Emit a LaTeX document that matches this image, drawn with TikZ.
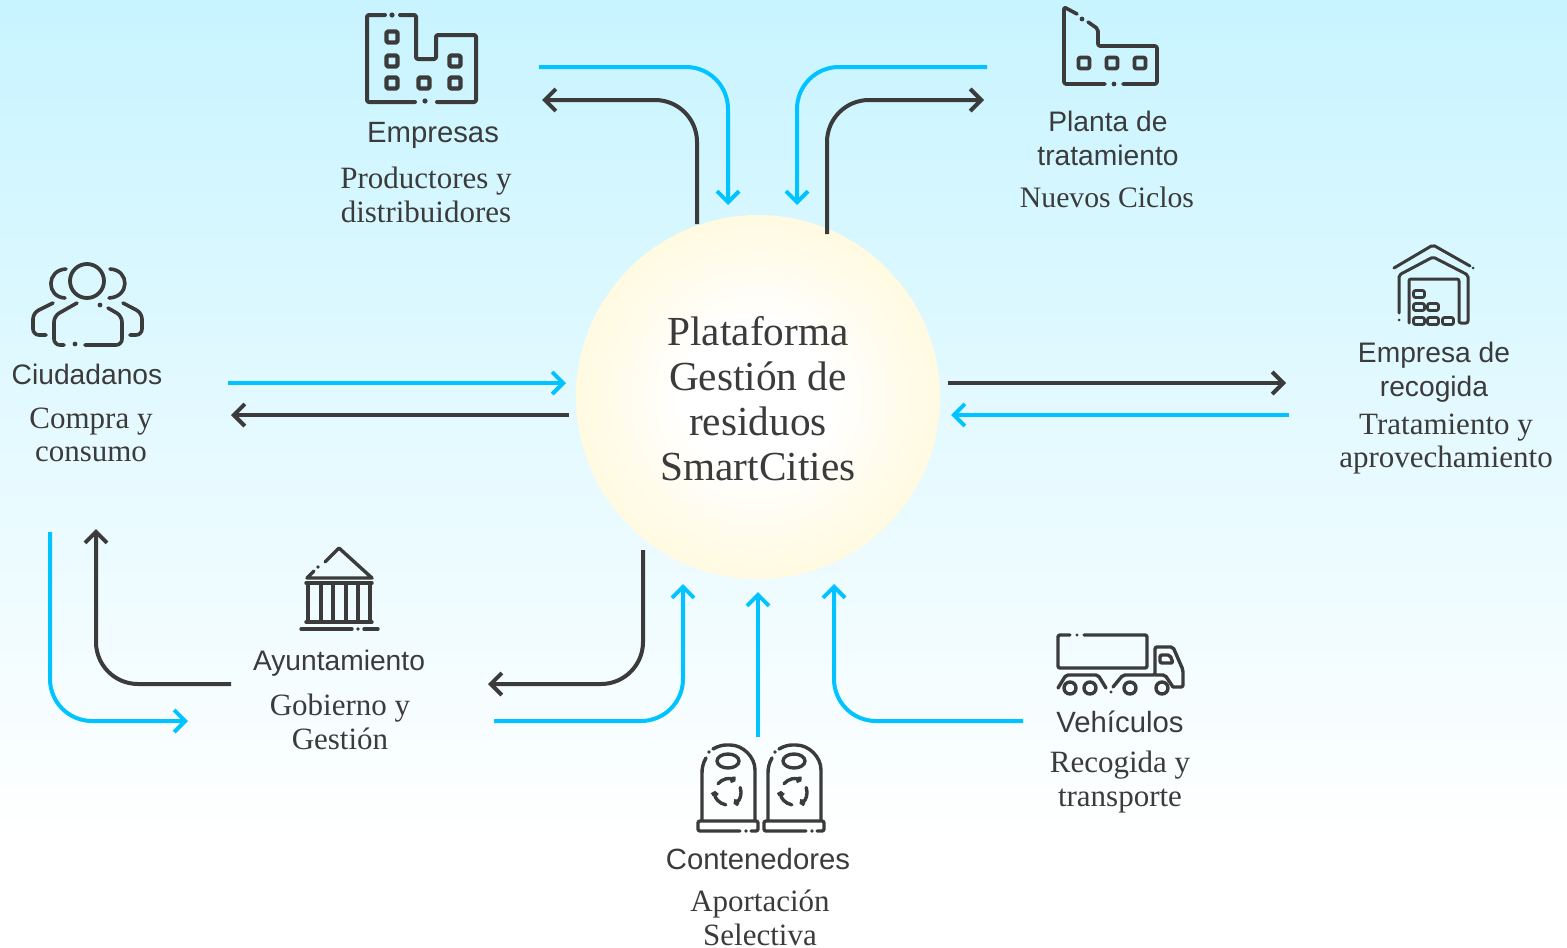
\documentclass[tikz,border=0pt]{standalone}
\usepackage{fontspec}
\setmainfont{Liberation Serif}
\setsansfont{Liberation Sans}
\usetikzlibrary{arrows.meta}
\definecolor{darkline}{HTML}{3B3B3B}
\definecolor{bluearrow}{HTML}{00C3FF}
\definecolor{skytop}{HTML}{C8F4FF}
\definecolor{rimyellow}{HTML}{FFF6CE}
\definecolor{midyellow}{HTML}{FFFBE6}
\pgfdeclareradialshading{glowball}{\pgfpoint{0bp}{0bp}}{color(0bp)=(white); color(10bp)=(white); color(22bp)=(midyellow); color(35bp)=(rimyellow); color(50bp)=(rimyellow)}
\tikzset{
  >={Straight Barb[length=11pt,width=22pt]},
  cyanline/.style={draw=bluearrow,line width=4pt,->,rounded corners=42pt},
  darkarrow/.style={draw=darkline,line width=4pt,->,rounded corners=42pt},
  icon/.style={draw=darkline,line width=3.4pt,line cap=round,line join=round,rounded corners=2pt},
  icondot/.style={fill=darkline},
  who/.style={font=\sffamily\fontsize{28.2}{34}\selectfont,text=darkline,align=center},
  whobig/.style={font=\sffamily\fontsize{29.3}{34}\selectfont,text=darkline,align=center},
  what/.style={font=\fontsize{31}{33.5}\selectfont,text=darkline,align=center}
}
\begin{document}
\begin{tikzpicture}[x=1pt,y=-1pt]
  \useasboundingbox (0,0) rectangle (1567,948);
  \shade[top color=skytop,bottom color=white] (0,0) rectangle (1567,840);

  % centre
  \node[circle,minimum size=364pt,shading=glowball,inner sep=0pt] (plataforma) at (758,397) {};
  \node[font=\fontsize{41.3}{45}\selectfont,text=darkline,align=center] (plataformatxt) at (758,399) {Plataforma\\Gestión de\\residuos\\SmartCities};

  % labels
  \node[whobig] (empresas) at (433,135) {Empresas};
  \node[what] (empresastxt) at (426,195) {Productores y\\distribuidores};
  \node[who] (planta) at (1108,138) {Planta de\\tratamiento};
  \node[what,font=\fontsize{29.7}{33.5}\selectfont] (plantatxt) at (1107,197) {Nuevos Ciclos};
  \node[who] (recogida) at (1434,372) {Empresa de\\recogida};
  \node[what] (recogidatxt) at (1446,444) {Tratamiento y\\aprovechamiento};
  \node[who] (ciudadanos) at (87,374) {Ciudadanos};
  \node[what] (ciudadanostxt) at (91,435) {Compra y\\consumo};
  \node[who] (ayto) at (339,663) {Ayuntamiento};
  \node[what] (aytotxt) at (340,722) {Gobierno y\\Gestión};
  \node[whobig] (contenedores) at (758,859) {Contenedores};
  \node[what] (contenedorestxt) at (760,918) {Aportación\\Selectiva};
  \node[whobig] (vehiculos) at (1120,722) {Vehículos};
  \node[what] (vehiculostxt) at (1120,782) {Recogida y\\transporte};

  % arrow ends
  \coordinate (ea) at (539,67);  \coordinate (eb) at (728,205);
  \coordinate (ec) at (697,224); \coordinate (ed) at (542,100);
  \coordinate (pa) at (987,67);  \coordinate (pb) at (797,205);
  \coordinate (pc) at (827,234); \coordinate (pd) at (984,100);
  \coordinate (ra) at (948,383); \coordinate (rb) at (1286,383);
  \coordinate (rc) at (1289,415);\coordinate (rd) at (951,415);
  \coordinate (ca) at (228,383); \coordinate (cb) at (566,383);
  \coordinate (cc) at (569,415); \coordinate (cd) at (231,415);
  \coordinate (ua) at (50,532);  \coordinate (ub) at (188,721);
  \coordinate (uc) at (231,684); \coordinate (ud) at (96,529);
  \coordinate (ue) at (643,550); \coordinate (uf) at (488,684);
  \coordinate (ug) at (494,721); \coordinate (uh) at (683,584);
  \coordinate (ta) at (758,737); \coordinate (tb) at (758,592);
  \coordinate (va) at (1023,721);\coordinate (vb) at (834,584);

  \draw[cyanline] (ea) -| (eb);
  \draw[darkarrow] (ec) |- (ed);
  \draw[cyanline] (pa) -| (pb);
  \draw[darkarrow] (pc) |- (pd);
  \draw[darkarrow] (ra) -- (rb);
  \draw[cyanline] (rc) -- (rd);
  \draw[cyanline] (ca) -- (cb);
  \draw[darkarrow] (cc) -- (cd);
  \draw[cyanline] (ua) |- (ub);
  \draw[darkarrow] (uc) -| (ud);
  \draw[darkarrow] (ue) |- (uf);
  \draw[cyanline] (ug) -| (uh);
  \draw[cyanline] (ta) -- (tb);
  \draw[cyanline] (va) -| (vb);

  % empresas icon
  \draw[icon,line width=4pt] (385,15) -- (367,15) -- (367,102) -- (415,102);
  \draw[icon,line width=4pt] (437,102) -- (476,102) -- (476,35) -- (436,35) -- (436,59) -- (416,59) -- (416,15) -- (400,15);
  \fill[icondot] (392,15) circle[radius=2.6pt] (425,101) circle[radius=2.6pt];
  \foreach \x/\y in {392/37,392/61,392/83,424/83,455/61,455/83}
    \draw[icon,line width=4.4pt] (\x-5.5,\y-5.5) rectangle (\x+5.5,\y+5.5);

  % planta icon
  \draw[icon,line width=3.6pt] (1077,14) -- (1064,7) -- (1064,84) -- (1105,84);
  \draw[icon,line width=3.6pt] (1123,84) -- (1157,84) -- (1157,46) -- (1098,46) -- (1098,29) -- (1088,22);
  \fill[icondot] (1082,19) circle[radius=2.4pt] (1114,84) circle[radius=2.4pt];
  \foreach \x in {1084,1112,1140}
    \draw[icon,line width=3.8pt] (\x-5.5,63-5.5) rectangle (\x+5.5,63+5.5);

  % recogida icon
  \draw[icon,line width=3pt] (1394,268) -- (1433,245) -- (1470,266);
  \fill[icondot] (1473,268) circle[radius=1.5pt] (1399,320) circle[radius=1.5pt];
  \draw[icon,line width=3pt] (1399,313) -- (1399,275) -- (1433,257) -- (1468,275) -- (1468,323) -- (1459,323) -- (1459,279) -- (1409,279) -- (1409,323);
  \foreach \x/\y in {1419/294,1419/307,1433/307,1419/321,1433/321,1448/321}
    \draw[icon,line width=2.8pt] (\x-5.5,\y-3.5) rectangle (\x+5.5,\y+3.5);

  % ciudadanos icon
  \draw[icon,line width=3.8pt] (87,281) circle[radius=17pt];
  \draw[icon,line width=3.6pt] (66,269) .. controls (46,270) and (46,297) .. (65,298);
  \draw[icon,line width=3.6pt] (110,269) .. controls (130,270) and (130,297) .. (109,298);
  \draw[icon,line width=3.6pt,rounded corners=6pt] (77,303) -- (54,316) -- (54,345) -- (64,345);
  \draw[icon,line width=3.6pt,rounded corners=6pt] (85,345) -- (122,345) -- (122,316) -- (108,308);
  \draw[icon,line width=3.6pt,rounded corners=6pt] (53,303) -- (33,313) -- (33,335) -- (46,335);
  \draw[icon,line width=3.6pt,rounded corners=6pt] (123,303) -- (142,313) -- (142,335) -- (130,335);
  \fill[icondot] (75,344) circle[radius=2.4pt] (100,305) circle[radius=2.4pt];

  % ayuntamiento icon
  \draw[icon,rounded corners=0pt] (325,562) -- (339,548) -- (372,578) -- (307,578) -- (314,571);
  \fill[icondot] (318,567) circle[radius=1.8pt] (358,629) circle[radius=1.8pt];
  \draw[icon] (306,583) -- (372,583);
  \draw[icon] (306,622) -- (372,622);
  \foreach \x in {308,321,333,346,358,370}
    \draw[icon] (\x,583) -- (\x,622);
  \draw[icon] (301,629) -- (352,629);
  \draw[icon] (364,629) -- (378,629);

  % vehiculos icon
  \draw[icon] (1070,635) -- (1058,635) -- (1058,668) -- (1147,668) -- (1147,635) -- (1084,635);
  \fill[icondot] (1077,635) circle[radius=1.7pt] (1111,692) circle[radius=1.7pt];
  \draw[icon] (1173,687) -- (1183,687) -- (1183,670) -- (1173,647) -- (1155,647) -- (1155,675) -- (1123,675) -- (1113,687);
  \draw[icon] (1155,675) -- (1165,675) -- (1173,687);
  \draw[icon] (1160,655) -- (1170,655) -- (1173,663) -- (1160,663) -- cycle;
  \draw[icon] (1058,688) -- (1066,675) -- (1098,675) -- (1106,688);
  \foreach \x in {1070,1090,1130,1162}
    \draw[icon] (\x,688) circle[radius=6pt];

  % contenedores icons
  \foreach \s in {0,66} {
    \begin{scope}[xshift=\s pt]
      \draw[icon] (702,820) -- (702,775) .. controls (702,768) and (703,763) .. (706,758);
      \draw[icon] (713,749) .. controls (718,746) and (723,745) .. (728,745) .. controls (743,745) and (755,757) .. (755,772) -- (755,820);
      \fill[icondot] (709,752) circle[radius=1.8pt] (746,831) circle[radius=1.8pt];
      \draw[icon] (740,831) -- (698,831) -- (698,821) -- (758,821) -- (758,831) -- (751,831);
      \draw[icon] (728,761) ellipse[x radius=11pt,y radius=7pt];
      \foreach \a in {20,140,260}
        \draw[icon,-{Straight Barb[length=2pt,width=6pt]}] (728,792) ++(\a:13pt) arc[start angle=\a,delta angle=-85,radius=13pt];
    \end{scope}
  }
\end{tikzpicture}
\end{document}
